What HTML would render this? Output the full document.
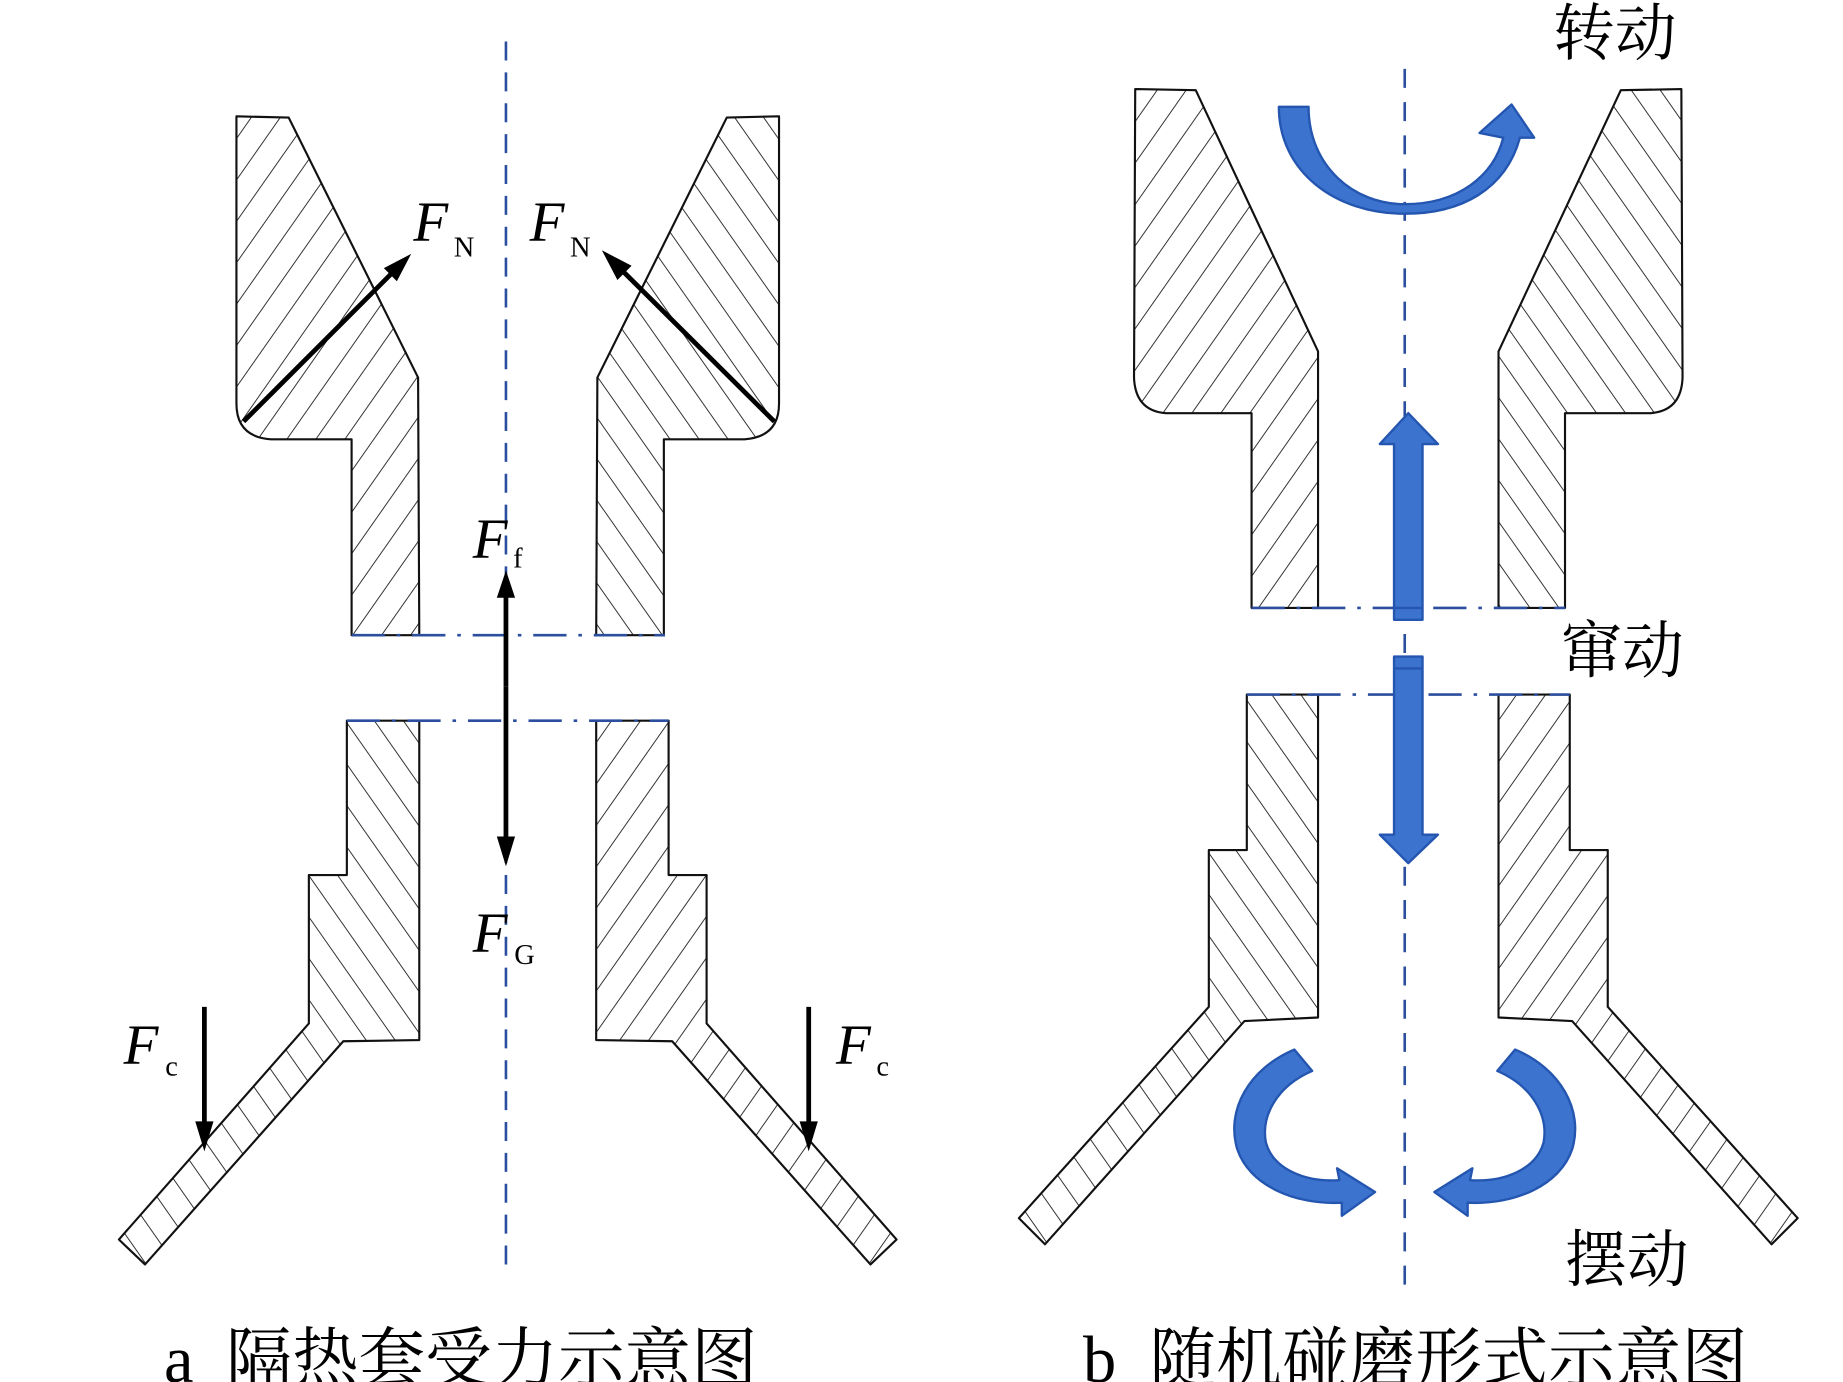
<!DOCTYPE html>
<html><head><meta charset="utf-8"><style>
html,body{margin:0;padding:0;background:#fff;}
svg{display:block;}
</style></head><body>
<svg width="1843" height="1382" viewBox="0 0 1552 1164" xmlns="http://www.w3.org/2000/svg">
<defs>
<pattern id="hf" width="20" height="20" patternUnits="userSpaceOnUse" patternTransform="rotate(-55)">
<line x1="0" y1="10" x2="20" y2="10" stroke="#333" stroke-width="0.9"/></pattern>
<pattern id="hb" width="20" height="20" patternUnits="userSpaceOnUse" patternTransform="rotate(55)">
<line x1="0" y1="10" x2="20" y2="10" stroke="#333" stroke-width="0.9"/></pattern>
</defs>
<rect width="1552" height="1164" fill="#fff"/>

<!-- LEFT DIAGRAM -->
<line x1="426" y1="35" x2="426" y2="1068" stroke="#2b4f9e" stroke-width="2.2" stroke-dasharray="16,10"/>
<g stroke="#111" stroke-width="1.8" stroke-linejoin="round">
<path d="M199,98 L243,99 L352,318 L353,535 L296,535 L296,370 L228,370 Q199,368 199,340 Z" fill="url(#hf)"/>
<path d="M656,98 L612,99 L503,318 L502,535 L559,535 L559,370 L627,370 Q656,368 656,340 Z" fill="url(#hb)"/>
<path d="M292,607 L353,607 L353,876 L289,877 L122,1065 L100,1044 L260,862 L260,737 L292,737 Z" fill="url(#hb)"/>
<path d="M563,607 L502,607 L502,876 L566,877 L733,1065 L755,1044 L595,862 L595,737 L563,737 Z" fill="url(#hf)"/>
</g>
<g stroke="#2b4f9e" stroke-width="2.2">
<line x1="296" y1="535" x2="560" y2="535" stroke-dasharray="28,10,3,10"/>
<line x1="292" y1="607" x2="563" y2="607" stroke-dasharray="28,10,3,10"/>
</g>
<g stroke="#000" stroke-width="4" fill="#000">
<line x1="205" y1="355" x2="332" y2="228"/><polygon points="345,215 324,226 334,236" stroke-width="1"/>
<line x1="652" y1="355" x2="522" y2="226"/><polygon points="508,212 520,235 531,224" stroke-width="1"/>
<line x1="426" y1="578" x2="426" y2="500"/><polygon points="426,482 419,503 433,503" stroke-width="1"/>
<line x1="426" y1="578" x2="426" y2="708"/><polygon points="426,728 419,705 433,705" stroke-width="1"/>
<line x1="172" y1="848" x2="172" y2="948"/><polygon points="172,968 165,945 179,945" stroke-width="1"/>
<line x1="681" y1="848" x2="681" y2="948"/><polygon points="681,968 674,945 688,945" stroke-width="1"/>
</g>
<g font-family="Liberation Serif, serif" fill="#000">
<text x="348" y="203" font-size="48" font-style="italic">F</text><text x="382" y="216" font-size="24">N</text>
<text x="446" y="203" font-size="48" font-style="italic">F</text><text x="480" y="216" font-size="24">N</text>
<text x="398" y="470" font-size="48" font-style="italic">F</text><text x="432" y="478" font-size="24">f</text>
<text x="398" y="802" font-size="48" font-style="italic">F</text><text x="433" y="812" font-size="24">G</text>
<text x="104" y="896" font-size="48" font-style="italic">F</text><text x="139" y="906" font-size="24">c</text>
<text x="704" y="896" font-size="48" font-style="italic">F</text><text x="738" y="906" font-size="24">c</text>
</g>
<text x="138" y="1164" font-family="Liberation Serif, serif" font-size="56" fill="#000">a</text>
<text x="190" y="1164" font-family="'Noto Serif CJK SC', serif" font-size="56" fill="#000">隔热套受力示意图</text>

<!-- RIGHT DIAGRAM -->
<g transform="translate(-10,0)">
<line x1="1193" y1="58" x2="1193" y2="1092" stroke="#2b4f9e" stroke-width="2.2" stroke-dasharray="16,12"/>
<g stroke="#111" stroke-width="1.8" stroke-linejoin="round">
<path d="M966,75 L1017,76 L1120,296 L1120,512 L1064,512 L1064,348 L992,348 Q966,346 965,318 Z" fill="url(#hf)"/>
<path d="M1426,75 L1375,76 L1272,296 L1272,512 L1328,512 L1328,348 L1400,348 Q1426,346 1427,318 Z" fill="url(#hb)"/>
<path d="M1060,585 L1120,585 L1120,857 L1058,860 L890,1048 L868,1026 L1028,848 L1028,716 L1060,716 Z" fill="url(#hb)"/>
<path d="M1332,585 L1272,585 L1272,857 L1334,860 L1502,1048 L1524,1026 L1364,848 L1364,716 L1332,716 Z" fill="url(#hf)"/>
</g>
<g stroke="#2b4f9e" stroke-width="2.2">
<line x1="1064" y1="512" x2="1328" y2="512" stroke-dasharray="28,10,3,10"/>
<line x1="1060" y1="585" x2="1332" y2="585" stroke-dasharray="28,10,3,10"/>
</g>
<g fill="#3c73cf" stroke="#2456b0" stroke-width="2" stroke-linejoin="round">
<path d="M1184,522 L1184,374 L1172,374 L1196,348 L1221,374 L1208,374 L1208,522 Z"/>
<line x1="1184" y1="512" x2="1208" y2="512"/>
<path d="M1184,553 L1184,703 L1172,703 L1196,727 L1221,703 L1208,703 L1208,553 Z"/>
<line x1="1184" y1="563" x2="1208" y2="563"/>
<path d="M1087,90 L1112,90 C1112,140 1150,172 1193,172 C1238,172 1268,148 1276,116 L1256,112 L1283,88 L1302,116 L1290,116 C1278,160 1240,180 1193,180 C1135,180 1087,145 1087,90 Z"/>
<path d="M1100,884 L1115,902 C1085,915 1072,940 1076,962 C1082,985 1110,996 1138,994 L1136,984 L1168,1004 L1140,1024 L1140,1013 C1100,1015 1062,998 1052,968 C1042,935 1062,900 1100,884 Z"/>
<path d="M1286,884 L1271,902 C1301,915 1314,940 1310,962 C1304,985 1276,996 1248,994 L1250,984 L1218,1004 L1246,1024 L1246,1013 C1286,1015 1324,998 1334,968 C1344,935 1324,900 1286,884 Z"/>
</g>
<g font-family="'Noto Serif CJK SC', serif" font-size="52" fill="#000">
<text x="1318" y="46">转动</text>
<text x="1324" y="566">窜动</text>
<text x="1328" y="1079">摆动</text>
</g>
</g>
<text x="912" y="1164" font-family="Liberation Serif, serif" font-size="56" fill="#000">b</text>
<text x="968" y="1164" font-family="'Noto Serif CJK SC', serif" font-size="56" fill="#000">随机碰磨形式示意图</text>
</svg>
</body></html>
